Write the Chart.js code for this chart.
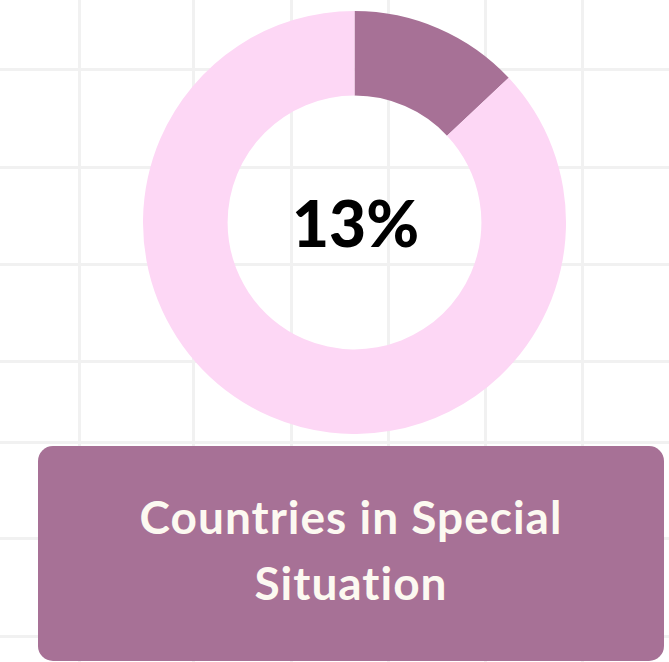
<!DOCTYPE html>
<html>
<head>
<meta charset="utf-8">
<script src="https://cdn.jsdelivr.net/npm/chart.js@4.4.1/dist/chart.umd.min.js"></script>
<style>
  html, body { margin: 0; padding: 0; }
  body { width: 669px; height: 662px; position: relative; overflow: hidden; background: #fff; font-family: "Lato", sans-serif; }
  .gv, .gh { position: absolute; background: #f1f1f1; }
  .gv { top: 0; width: 3px; height: 662px; }
  .gh { left: 0; height: 3px; width: 669px; }
  #chartBox { position: absolute; left: 143px; top: 11px; width: 423px; height: 423px; }
  #label {
    position: absolute; left: 38px; top: 446px; width: 626px; height: 215px;
    background: #a77196; border-radius: 15px;
    color: #fcf9f1; font-weight: 700; font-size: 46px; line-height: 66px; letter-spacing: 1px;
    text-align: center; box-sizing: border-box; padding: 38px 20px 0 20px;
  }
</style>
</head>
<body>
<div id="grid"></div>
<div id="chartBox"><canvas id="myChart"></canvas></div>
<div id="label"></div>
<script>
// Daten
const labels = ["Countries in Special Situation", "Other countries"];
const values = [13, 87];
const colors = ["#a77196", "#fdd7f5"];
const centerText = "13%";
const titleLines = ["Countries in Special", "Situation"];

// Hintergrund-Raster
const gridX = [79, 193, 291, 388, 485, 582];
const gridY = [69, 167, 264, 361, 442, 538, 636];
const grid = document.getElementById("grid");
gridX.forEach((x) => {
  const d = document.createElement("div");
  d.className = "gv";
  d.style.left = (x - 1) + "px";
  grid.appendChild(d);
});
gridY.forEach((y) => {
  const d = document.createElement("div");
  d.className = "gh";
  d.style.top = (y - 1) + "px";
  grid.appendChild(d);
});

document.getElementById("label").innerHTML = titleLines.join("<br>");

// Text in der Mitte
const centerLabel = {
  id: "centerLabel",
  afterDraw(chart) {
    const { ctx } = chart;
    const meta = chart.getDatasetMeta(0).data[0];
    ctx.save();
    ctx.font = "900 64px Lato";
    ctx.fillStyle = "#000";
    ctx.textAlign = "center";
    ctx.textBaseline = "alphabetic";
    ctx.fillText(centerText, meta.x + 1, meta.y + 24);
    ctx.restore();
  },
};

const ctx = document.getElementById("myChart");
new Chart(ctx, {
  type: "doughnut",
  data: {
    labels: labels,
    datasets: [
      {
        data: values,
        backgroundColor: colors,
        borderWidth: 0,
      },
    ],
  },
  options: {
    responsive: true,
    maintainAspectRatio: false,
    animation: false,
    cutout: "60%",
    layout: { padding: 0 },
    plugins: {
      legend: { display: false },
      tooltip: { enabled: false },
    },
  },
  plugins: [centerLabel],
});
</script>
</body>
</html>
